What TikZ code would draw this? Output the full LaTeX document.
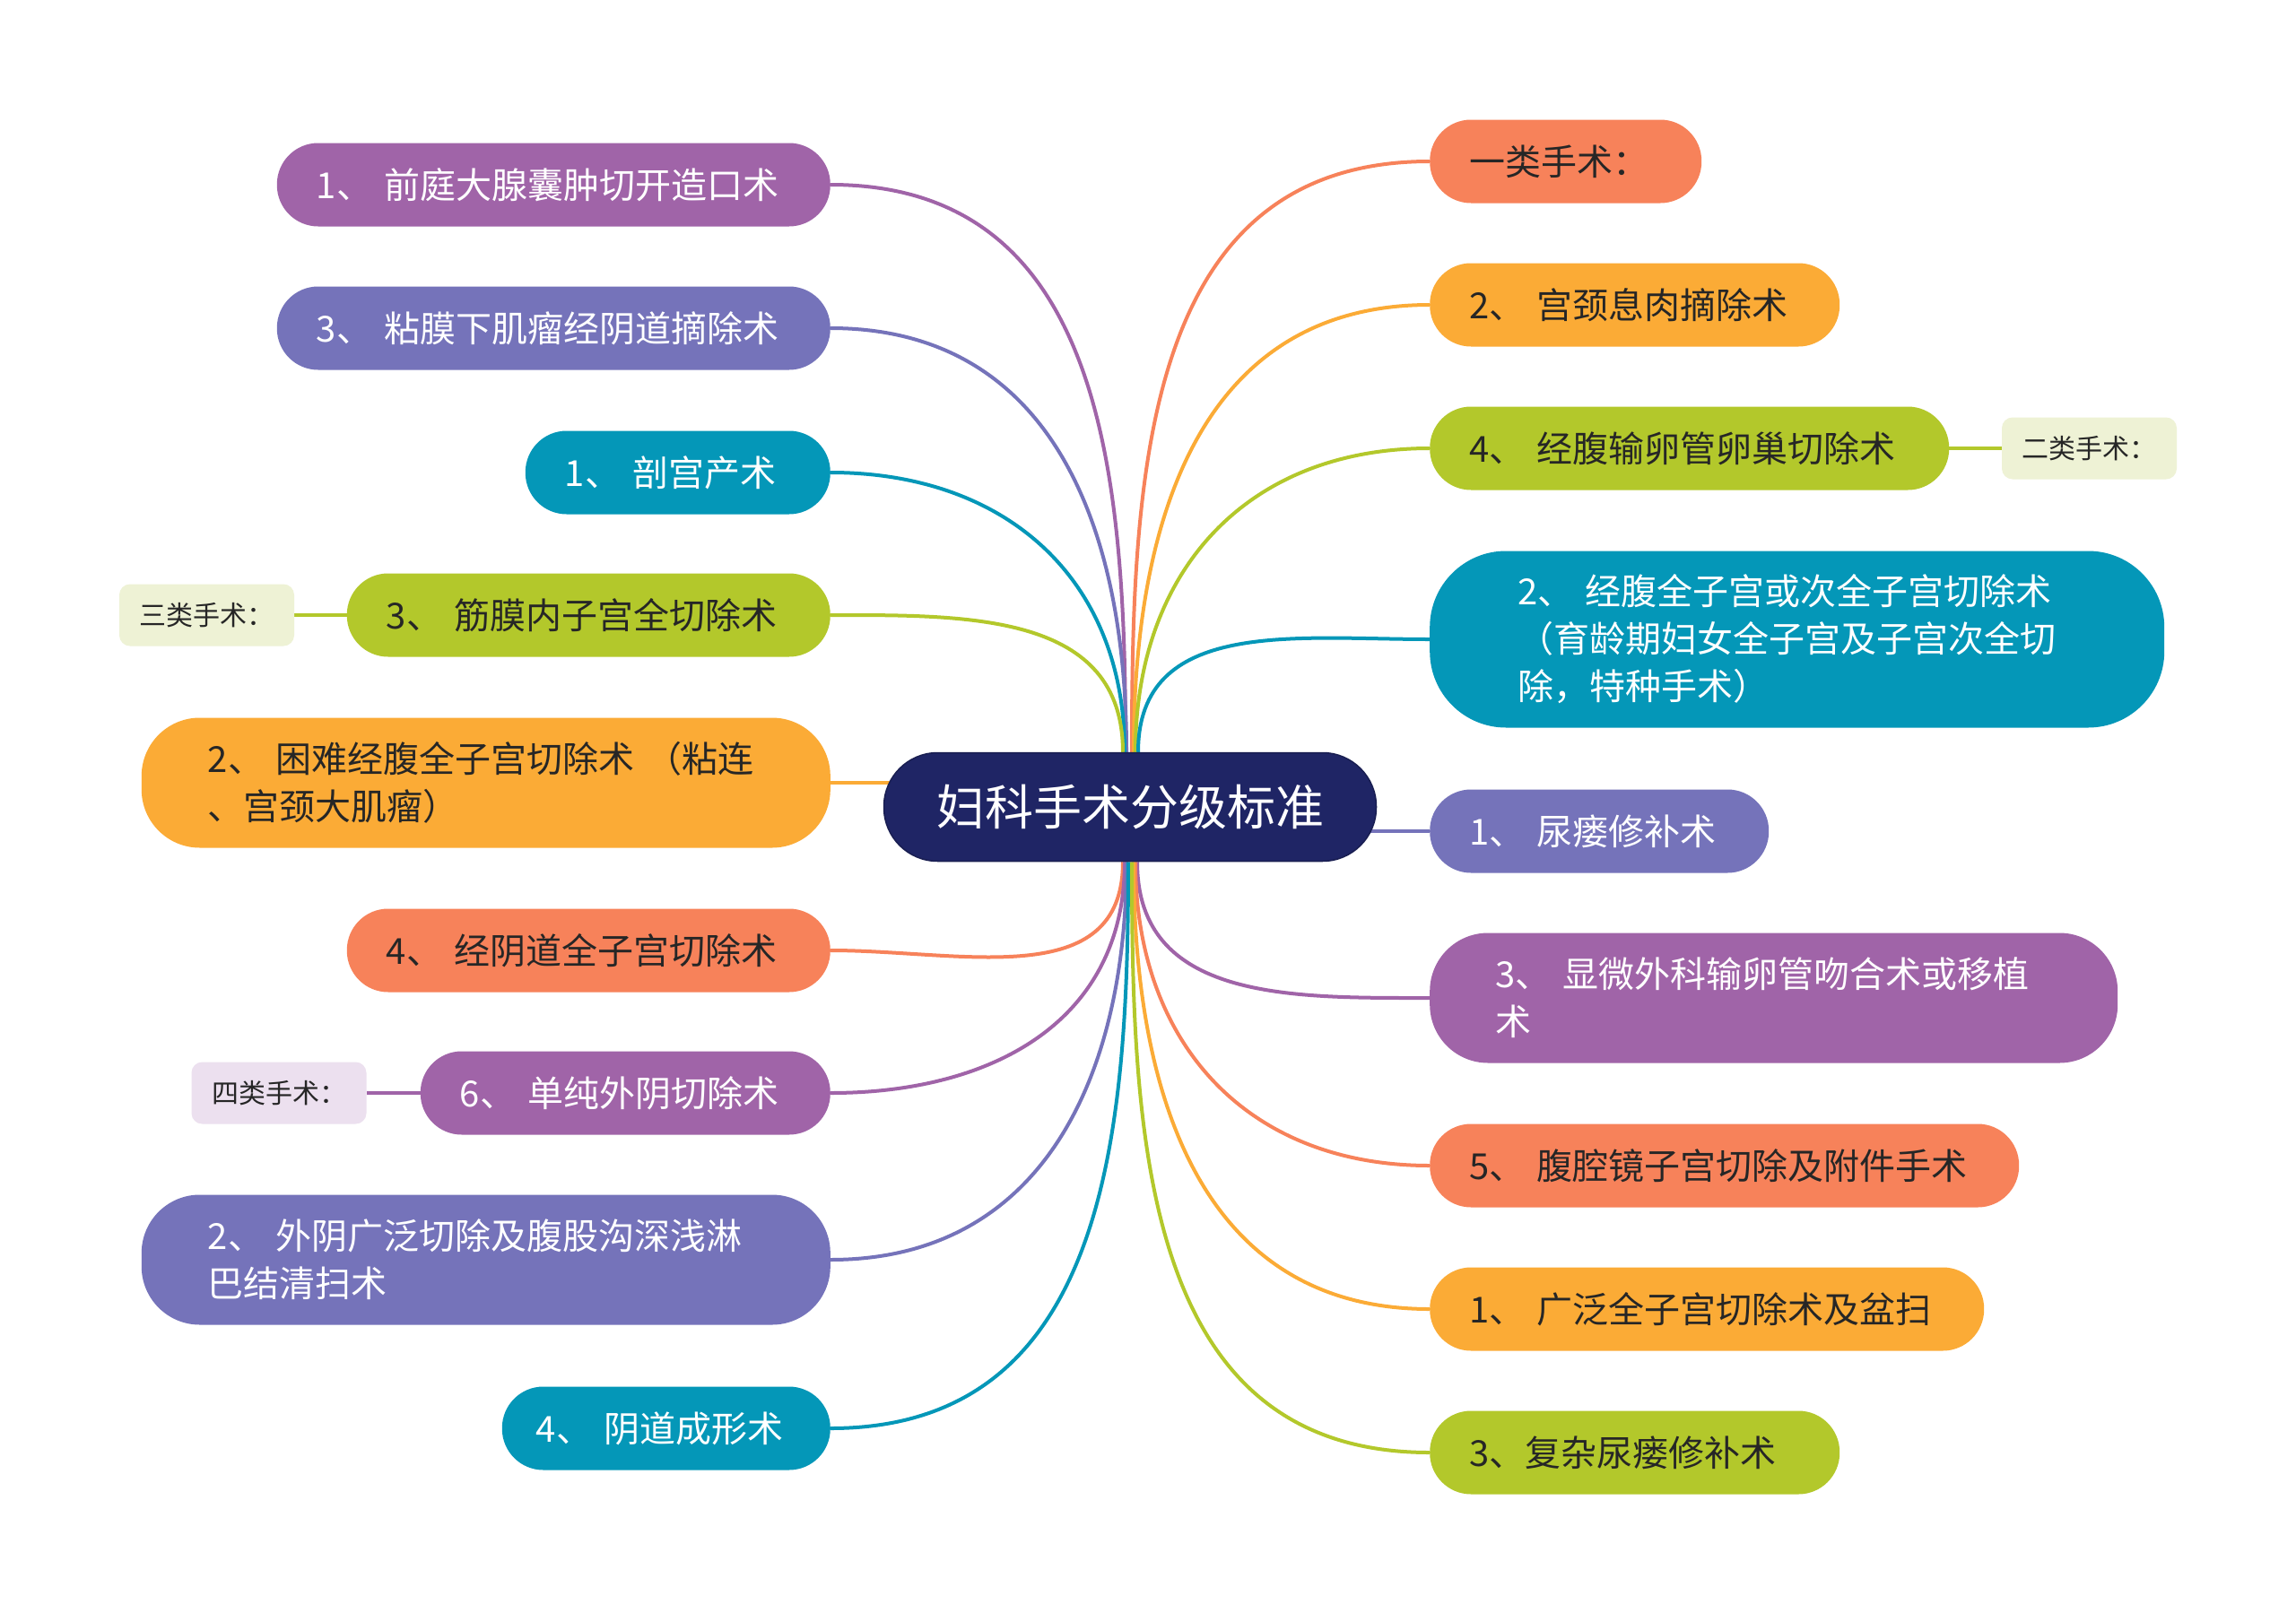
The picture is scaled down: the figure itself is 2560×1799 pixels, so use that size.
\documentclass[tikz,border=0pt]{standalone}
\usepackage{fontspec}
\setmainfont{Noto Sans CJK SC}
\pgfdeclarelayer{bg}
\pgfdeclarelayer{paper}
\pgfsetlayers{paper,bg,main}
\definecolor{cpurple}{HTML}{A064A8}
\definecolor{cblue}{HTML}{7573BA}
\definecolor{cteal}{HTML}{0497B8}
\definecolor{clime}{HTML}{B3C82B}
\definecolor{corange}{HTML}{FBAB36}
\definecolor{ccoral}{HTML}{F7825A}
\definecolor{cnavy}{HTML}{1F2565}
\definecolor{cpalelime}{HTML}{EEF2D5}
\definecolor{cpalelav}{HTML}{ECE0EF}
\definecolor{ctext}{HTML}{262626}
\tikzset{
  mb/.style={rounded corners=46pt, inner ysep=0pt, inner xsep=44pt, minimum height=93pt,
    align=left, font=\fontsize{40}{53}\selectfont},
  tall/.style={rounded corners=65pt, minimum height=145pt, inner xsep=74pt},
  fpurple/.style={fill=cpurple, text=white},
  fblue/.style={fill=cblue, text=white},
  fteal/.style={fill=cteal, text=white},
  flime/.style={fill=clime, text=ctext},
  forange/.style={fill=corange, text=ctext},
  fcoral/.style={fill=ccoral, text=ctext},
  sb/.style={rounded corners=12pt, minimum width=195pt, minimum height=69pt, inner sep=0pt,
    font=\fontsize{30}{36}\selectfont, text=ctext},
  cn/.style={draw=#1, line width=4pt},
}
\begin{document}
\begin{tikzpicture}[x=1pt,y=1pt]
\begin{pgfonlayer}{paper}
\fill[white] (0,0) rectangle (2560,-1799);
\end{pgfonlayer}
\useasboundingbox (0,0) rectangle (2560,-1799);

% center
\node[fill=cnavy, draw=cnavy!80!black, line width=1.5pt, rounded corners=60pt,
  minimum width=549pt, minimum height=121pt, inner sep=0pt, text=white,
  font=\fontsize{54}{60}\selectfont] (c) at (1260,-900) {妇科手术分级标准};

% left branch nodes
\node[mb,fpurple,text width=529pt,anchor=east] (l1) at (926,-206) {1、~前庭大腺囊肿切开造口术};
\node[mb,fblue,text width=529pt,anchor=east] (l2) at (926,-366) {3、~粘膜下肌瘤经阴道摘除术};
\node[mb,fteal,text width=252pt,anchor=east] (l3) at (926,-527) {1、~剖宫产术};
\node[mb,flime,text width=451pt,anchor=east] (l4) at (926,-686) {3、~筋膜内子宫全切除术};
\node[mb,tall,forange,text width=620pt,anchor=east] (l5) at (926,-873) {2、~困难经腹全子宫切除术~（粘连\\、宫颈大肌瘤）};
\node[mb,fcoral,text width=451pt,anchor=east] (l6) at (926,-1060) {4、~经阴道全子宫切除术};
\node[mb,fpurple,text width=369pt,anchor=east] (l7) at (926,-1219) {6、~单纯外阴切除术};
\node[mb,tall,fblue,text width=620pt,anchor=east] (l8) at (926,-1405) {2、~外阴广泛切除及腹股沟深浅淋\\巴结清扫术};
\node[mb,fteal,text width=290pt,inner xsep=38pt,anchor=east] (l9) at (926,-1593) {4、~阴道成形术};

% right branch nodes
\node[mb,fcoral,text width=215pt,anchor=west] (r1) at (1594,-180) {一类手术：};
\node[mb,forange,text width=369pt,anchor=west] (r2) at (1594,-340) {2、~宫颈息肉摘除术};
\node[mb,flime,text width=491pt,anchor=west] (r3) at (1594,-500) {4、~经腹输卵管卵巢切除术};
\node[mb,fteal,rounded corners=85pt,minimum height=197pt,inner xsep=98pt,text width=623pt,anchor=west] (r4) at (1594,-713)
  {2、~经腹全子宫或次全子宫切除术\\（育龄期妇女全子宫及子宫次全切\\除，特种手术）};
\node[mb,fblue,text width=290pt,anchor=west] (r5) at (1594,-927) {1、~尿瘘修补术};
\node[mb,tall,fpurple,inner xsep=73pt,text width=621pt,anchor=west] (r6) at (1594,-1113) {3、~显微外科输卵管吻合术或移植\\术};
\node[mb,fcoral,text width=569pt,anchor=west] (r7) at (1594,-1300) {5、~腹腔镜子宫切除及附件手术};
\node[mb,forange,text width=530pt,anchor=west] (r8) at (1594,-1460) {1、~广泛全子宫切除术及盆扫};
\node[mb,flime,text width=369pt,anchor=west] (r9) at (1594,-1620) {3、复杂尿瘘修补术};

% small label boxes
\node[sb,fill=cpalelime] (s3) at (230.5,-686) {三类手术：};
\node[sb,fill=cpalelav] (s4) at (311,-1219) {四类手术：};
\node[sb,fill=cpalelime] (s2) at (2329.5,-500) {二类手术：};

\begin{pgfonlayer}{bg}
\draw[cn=cpurple] (l1.east) to[out=0,in=90,looseness=1.1] ([xshift=-5pt]c.north);
\draw[cn=cblue]   (l2.east) to[out=0,in=90,looseness=1.1] ([xshift=-4pt]c.north);
\draw[cn=cteal]   (l3.east) to[out=0,in=90,looseness=1.1] ([xshift=-6pt]c.north);
\draw[cn=clime]   (l4.east) to[out=0,in=90,looseness=1.1] ([xshift=-8pt]c.north);
\draw[cn=corange] (l5.east) -- (l5.east -| c.center);
\draw[cn=ccoral]  (l6.east) to[out=0,in=-90,looseness=1.1] ([xshift=-8pt]c.south);
\draw[cn=cpurple] (l7.east) to[out=0,in=-90,looseness=1.1] ([xshift=-6pt]c.south);
\draw[cn=cblue]   (l8.east) to[out=0,in=-90,looseness=1.1] ([xshift=-4pt]c.south);
\draw[cn=cteal]   (l9.east) to[out=0,in=-90,looseness=1.1] ([xshift=-2pt]c.south);

\draw[cn=ccoral]  (r1.west) to[out=180,in=90,looseness=1.1] ([xshift=2pt]c.north);
\draw[cn=corange] (r2.west) to[out=180,in=90,looseness=1.1] ([xshift=4pt]c.north);
\draw[cn=clime]   (r3.west) to[out=180,in=90,looseness=1.1] ([xshift=6pt]c.north);
\draw[cn=cteal]   (r4.west) to[out=180,in=90,looseness=1.1] ([xshift=9pt]c.north);
\draw[cn=cblue]   (r5.west) -- (r5.west -| c.center);
\draw[cn=cpurple] (r6.west) to[out=180,in=-90,looseness=1.1] ([xshift=8pt]c.south);
\draw[cn=ccoral]  (r7.west) to[out=180,in=-90,looseness=1.1] ([xshift=6pt]c.south);
\draw[cn=corange] (r8.west) to[out=180,in=-90,looseness=1.1] ([xshift=4pt]c.south);
\draw[cn=clime]   (r9.west) to[out=180,in=-90,looseness=1.1] ([xshift=2pt]c.south);

\draw[cn=clime]   (s3.east) -- (l4.west);
\draw[cn=cpurple] (s4.east) -- (l7.west);
\draw[cn=clime]   (r3.east) -- (s2.west);
\end{pgfonlayer}
\end{tikzpicture}
\end{document}
